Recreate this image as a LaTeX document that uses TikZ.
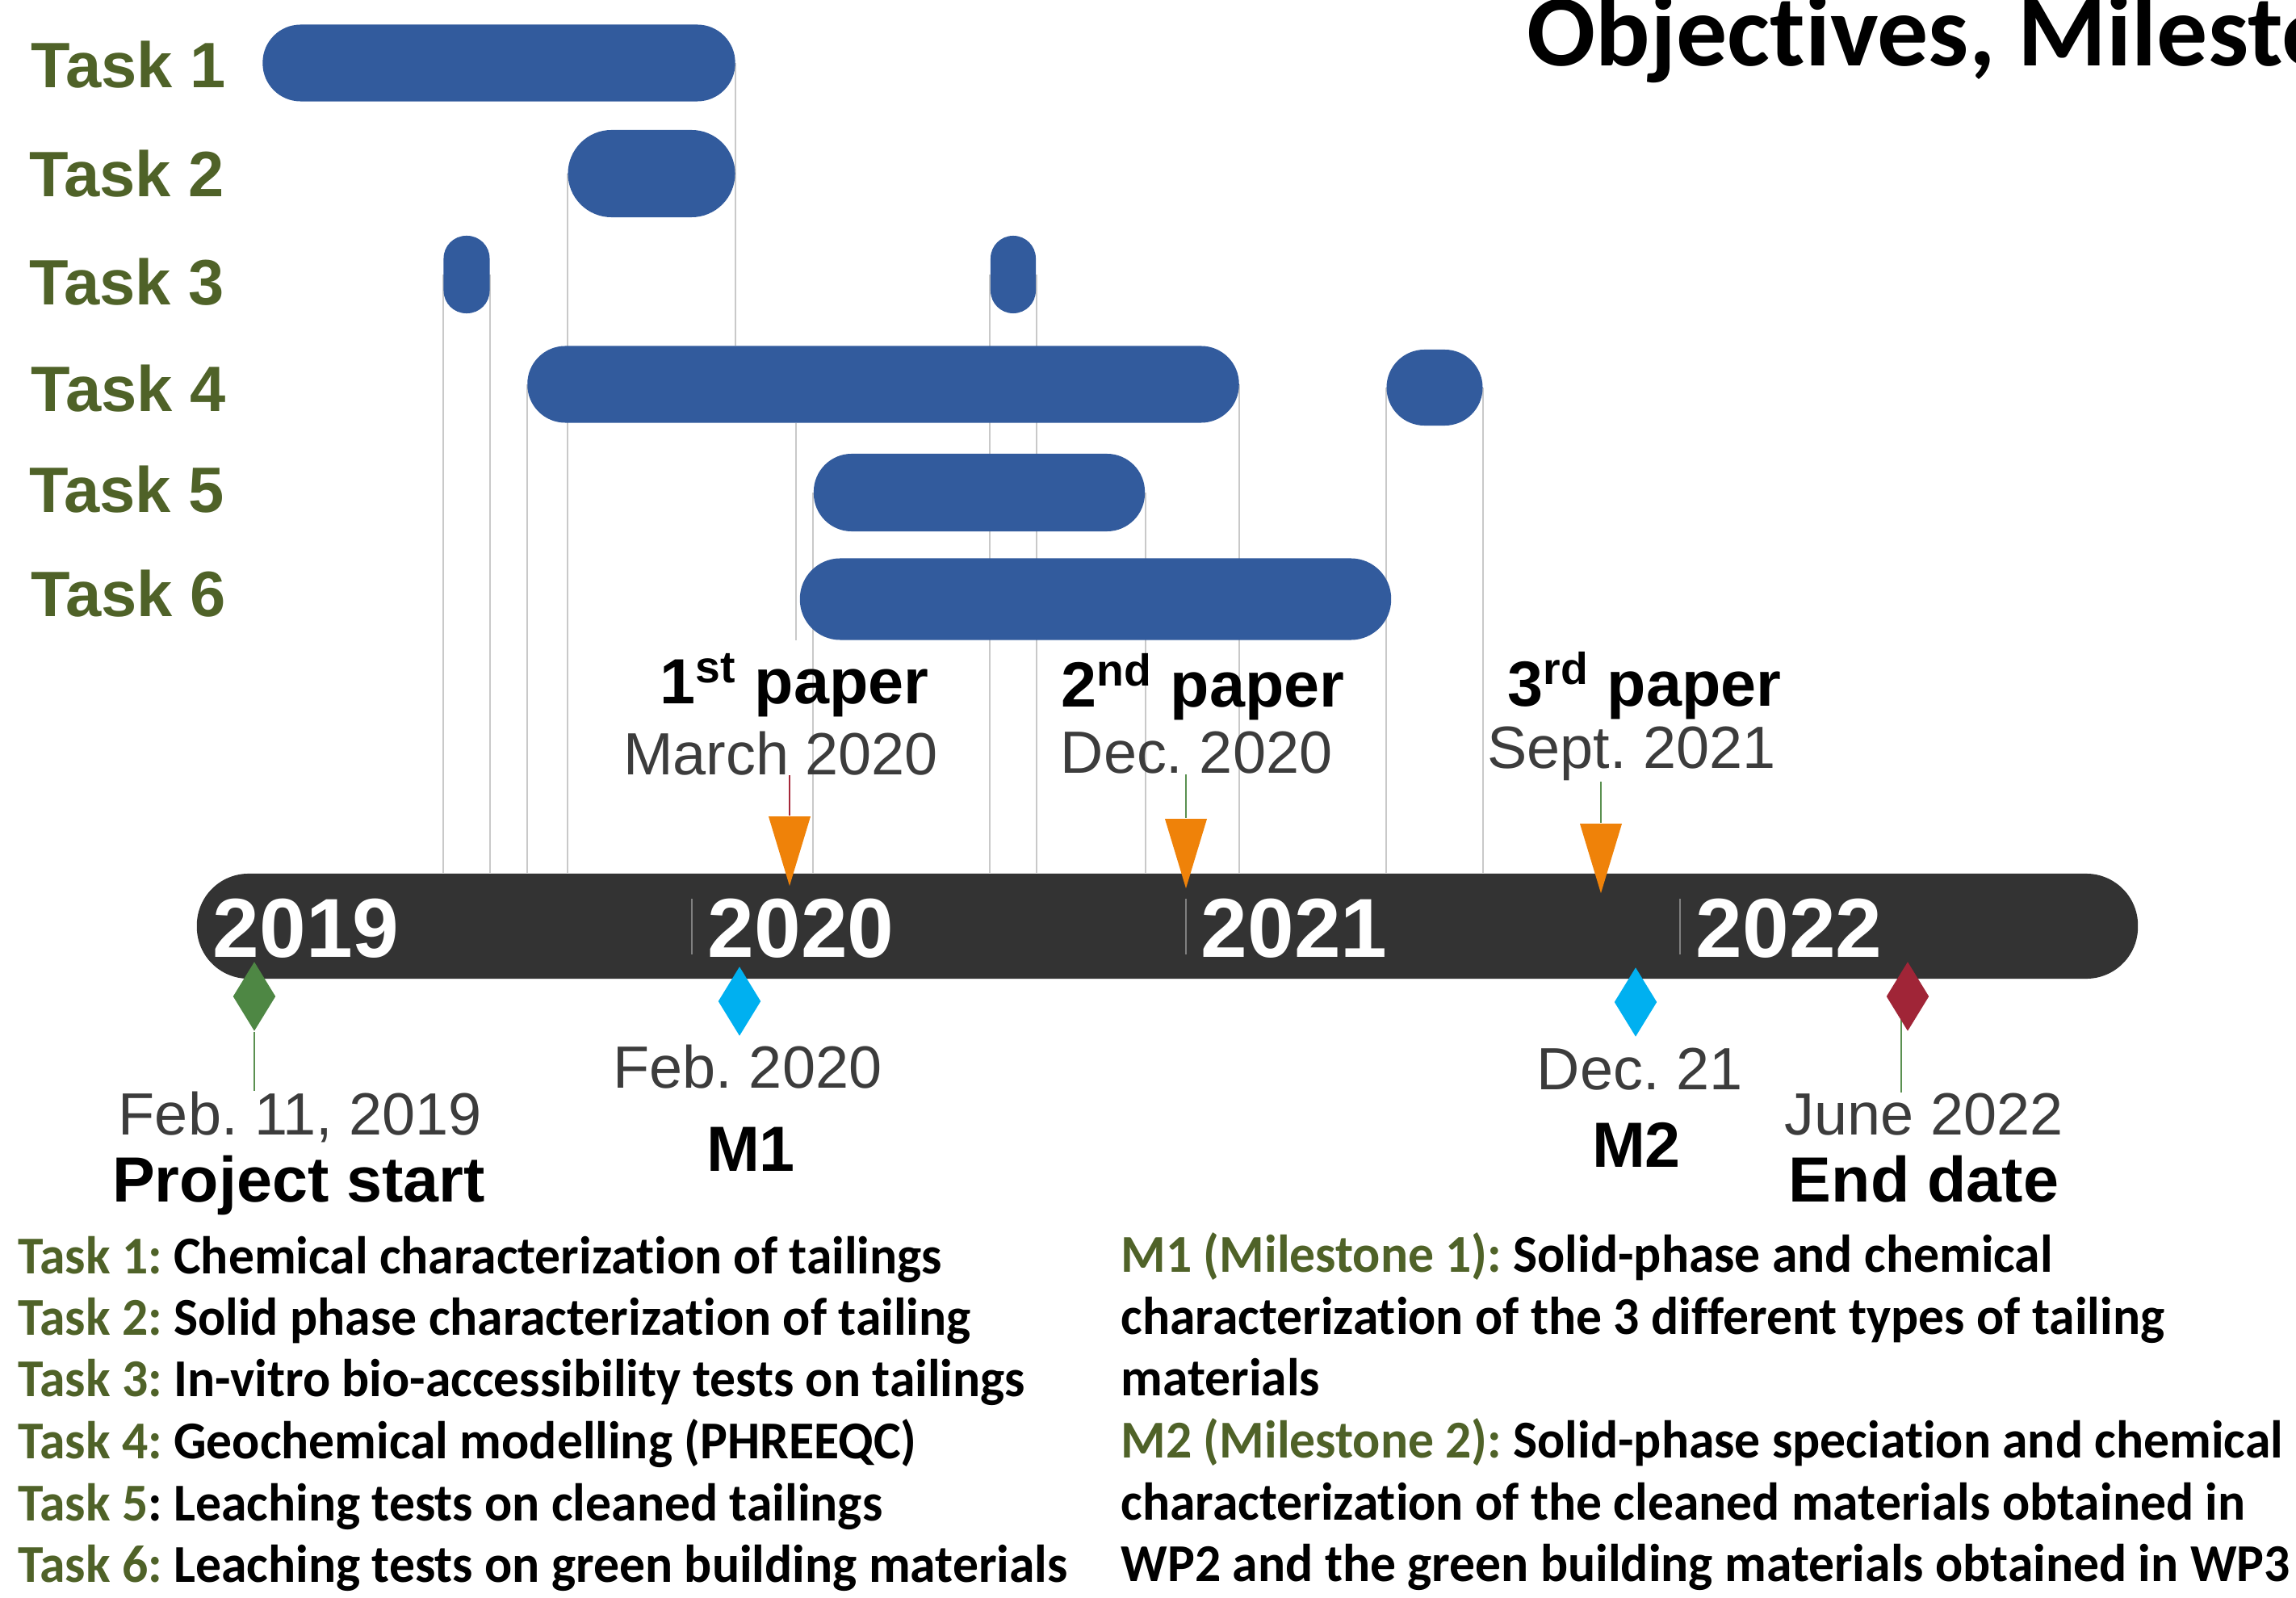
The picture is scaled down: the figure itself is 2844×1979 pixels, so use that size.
\documentclass[tikz,border=0pt]{standalone}
\usepackage{fontspec}
\setmainfont{Liberation Sans}
\newfontfamily\legendfont[Ligatures=NoCommon,FakeStretch=0.965]{Carlito}
\newfontfamily\titlefont[Ligatures=NoCommon]{Carlito}
\frenchspacing
\usepackage{tikz}
\usetikzlibrary{shapes.geometric,backgrounds}
\definecolor{planBlue}{HTML}{325B9D}
\definecolor{planInk}{HTML}{333333}
\definecolor{planOlive}{HTML}{4F6228}
\definecolor{planOrange}{HTML}{EF8209}
\definecolor{planCyan}{HTML}{00B0F0}
\definecolor{planGreen}{HTML}{4E8744}
\definecolor{planRed}{HTML}{A02537}
\definecolor{planStemGreen}{HTML}{5A9050}
\definecolor{planStemRed}{HTML}{A6283A}
\definecolor{planLeader}{HTML}{C9C9C9}
\definecolor{planTick}{HTML}{808080}
\definecolor{planDate}{HTML}{3C3C3C}
\tikzset{
  taskbar/.style={
    rectangle,
    fill=planBlue,
    inner sep=0pt,
    rounded corners=0.47cm
  },
  timeline/.style={
    rectangle,
    fill=planInk,
    inner sep=0pt,
    rounded corners=0.64cm
  },
  tasklabel/.style={
    anchor=west,
    inner sep=0pt,
    text=planOlive,
    font=\fontsize{22.6}{26}\selectfont\bfseries
  },
  yearlabel/.style={
    anchor=west,
    inner sep=0pt,
    text=white,
    font=\fontsize{29.5}{34}\selectfont\bfseries
  },
  leader/.style={
    draw=planLeader,
    line width=0.57pt
  },
  yeartick/.style={
    draw=planTick,
    line width=0.45pt
  },
  paperarrow/.style={
    isosceles triangle,
    isosceles triangle stretches,
    shape border rotate=-90,
    minimum width=0.52cm,
    minimum height=0.86cm,
    inner sep=0pt,
    fill=planOrange,
    anchor=apex
  },
  milestone/.style={
    diamond,
    minimum width=0.53cm,
    minimum height=0.86cm,
    inner sep=0pt
  },
  stem/.style={
    line width=0.6pt
  },
  boldlabel/.style={
    anchor=base,
    inner sep=0pt,
    font=\fontsize{22.5}{26}\selectfont\bfseries
  },
  datelabel/.style={
    anchor=base,
    inner sep=0pt,
    text=planDate,
    font=\fontsize{21}{25}\selectfont
  },
  legend/.style={
    anchor=base west,
    inner sep=0pt,
    font=\legendfont\bfseries\fontsize{18.75}{22}\selectfont
  }
}

\begin{document}
\begin{tikzpicture}[x=0.01cm,y=-0.01cm]
  \useasboundingbox (0,0) rectangle (2844,1979);

  \node[anchor=base west,inner sep=0pt,font=\titlefont\bfseries\fontsize{35.8}{40}\selectfont] (title) at (1891,82) {Objectives, Milestones};

  % task rows
  \node[tasklabel] (lab1) at (38,80) {Task 1};
  \node[tasklabel] (lab2) at (36,215) {Task 2};
  \node[tasklabel] (lab3) at (36,349) {Task 3};
  \node[tasklabel] (lab4) at (38,481) {Task 4};
  \node[tasklabel] (lab5) at (36,606) {Task 5};
  \node[tasklabel] (lab6) at (38,735) {Task 6};

  \node[taskbar,minimum width=5.85cm,minimum height=0.95cm] (t1) at (618,78) {};
  \node[taskbar,minimum width=2.07cm,minimum height=1.08cm,rounded corners=0.54cm] (t2) at (807,215) {};
  \node[taskbar,minimum width=0.57cm,minimum height=0.96cm,rounded corners=0.28cm] (t3a) at (578,340) {};
  \node[taskbar,minimum width=0.56cm,minimum height=0.96cm,rounded corners=0.28cm] (t3b) at (1255,340) {};
  \node[taskbar,minimum width=8.81cm,minimum height=0.95cm] (t4a) at (1094,476) {};
  \node[taskbar,minimum width=1.19cm,minimum height=0.94cm] (t4b) at (1777,480) {};
  \node[taskbar,minimum width=4.10cm,minimum height=0.96cm] (t5) at (1213,610) {};
  \node[taskbar,minimum width=7.32cm,minimum height=1.01cm,rounded corners=0.5cm] (t6) at (1357,742) {};

  % time axis
  \node[timeline,minimum width=24.03cm,minimum height=1.30cm] (line) at (1446,1147) {};
  \node[yearlabel] (y2019) at (263,1150) {2019};
  \node[yearlabel] (y2020) at (876,1150) {2020};
  \node[yearlabel] (y2021) at (1487,1150) {2021};
  \node[yearlabel] (y2022) at (2100,1150) {2022};
  \draw[yeartick] (857,1113) -- (857,1182);
  \draw[yeartick] (1469,1113) -- (1469,1182);
  \draw[yeartick] (2081,1113) -- (2081,1182);

  % papers
  \node[boldlabel] (p1) at (984,872) {1\textsuperscript{st} paper};
  \node[datelabel] (d1) at (967,959) {March 2020};
  \node[boldlabel] (p2) at (1490,876) {2\textsuperscript{nd} paper};
  \node[datelabel] (d2) at (1482,958) {Dec. 2020};
  \node[boldlabel] (p3) at (2037,874) {3\textsuperscript{rd} paper};
  \node[datelabel] (d3) at (2021,952) {Sept. 2021};
  \node[paperarrow] (a1) at (978,1099) {};
  \node[paperarrow] (a2) at (1469,1102) {};
  \node[paperarrow] (a3) at (1983,1108) {};
  \draw[stem,planStemRed] (a1.apex |- d1.south) -- (a1.apex |- a1.north);
  \draw[stem,planStemGreen] (a2.apex |- d2.south) -- (a2.apex |- a2.north);
  \draw[stem,planStemGreen] (a3.apex |- d3.south) -- (a3.apex |- a3.north);

  % milestones
  \node[datelabel] (sdate) at (372,1405) {Feb. 11, 2019};
  \node[boldlabel] (sname) at (370,1488) {Project start};
  \node[datelabel] (m1date) at (926,1347) {Feb. 2020};
  \node[boldlabel] (m1name) at (930,1450) {M1};
  \node[datelabel] (m2date) at (2031,1349) {Dec. 21};
  \node[boldlabel] (m2name) at (2027,1445) {M2};
  \node[datelabel] (edate) at (2383,1405) {June 2022};
  \node[boldlabel] (ename) at (2383,1488) {End date};
  \node[milestone,fill=planGreen] (ms) at (315,1234) {};
  \node[milestone,fill=planCyan] (m1) at (916,1240) {};
  \node[milestone,fill=planCyan] (m2) at (2026,1241) {};
  \node[milestone,fill=planRed] (me) at (2363,1234) {};

  \begin{scope}[on background layer]
    \draw[leader] (t1.east) -- (t1.east |- t4a.north);
    \foreach \b in {t2.west,t3a.west,t3a.east,t3b.west,t3b.east,t4a.west,t4a.east,t4b.west,t4b.east,t5.west,t5.east}
      \draw[leader] (\b) -- (\b |- line.north);
    \draw[leader] ([xshift=-1.2pt]t6.west |- t4a.south) -- ([xshift=-1.2pt]t6.west |- t6.south);
    \draw[stem,planStemGreen] (ms.south) -- (ms.south |- sdate.north);
    \draw[stem,planStemGreen] ([xshift=-2.3pt]me.center) -- ([xshift=-2.3pt]me.center |- edate.north);
  \end{scope}

  % legend
  \node[legend] (k1) at (22,1577) {\textcolor{planOlive}{Task 1:} Chemical characterization of tailings};
  \node[legend] (k2) at (22,1653) {\textcolor{planOlive}{Task 2:} Solid phase characterization of tailing};
  \node[legend] (k3) at (22,1729) {\textcolor{planOlive}{Task 3:} In-vitro bio-accessibility tests on tailings};
  \node[legend] (k4) at (22,1806) {\textcolor{planOlive}{Task 4:} Geochemical modelling (PHREEQC)};
  \node[legend] (k5) at (22,1883) {\textcolor{planOlive}{Task 5}: Leaching tests on cleaned tailings};
  \node[legend] (k6) at (22,1959) {\textcolor{planOlive}{Task 6:} Leaching tests on green building materials};
  \node[legend] (n1) at (1388,1575) {\textcolor{planOlive}{M1 (Milestone 1):} Solid-phase and chemical};
  \node[legend] (n2) at (1388,1652) {characterization of the 3 different types of tailing};
  \node[legend] (n3) at (1388,1728) {materials};
  \node[legend] (n4) at (1388,1805) {\textcolor{planOlive}{M2 (Milestone 2):} Solid-phase speciation and chemical};
  \node[legend] (n5) at (1388,1882) {characterization of the cleaned materials obtained in};
  \node[legend] (n6) at (1388,1958) {WP2 and the green building materials obtained in WP3};
\end{tikzpicture}
\end{document}
